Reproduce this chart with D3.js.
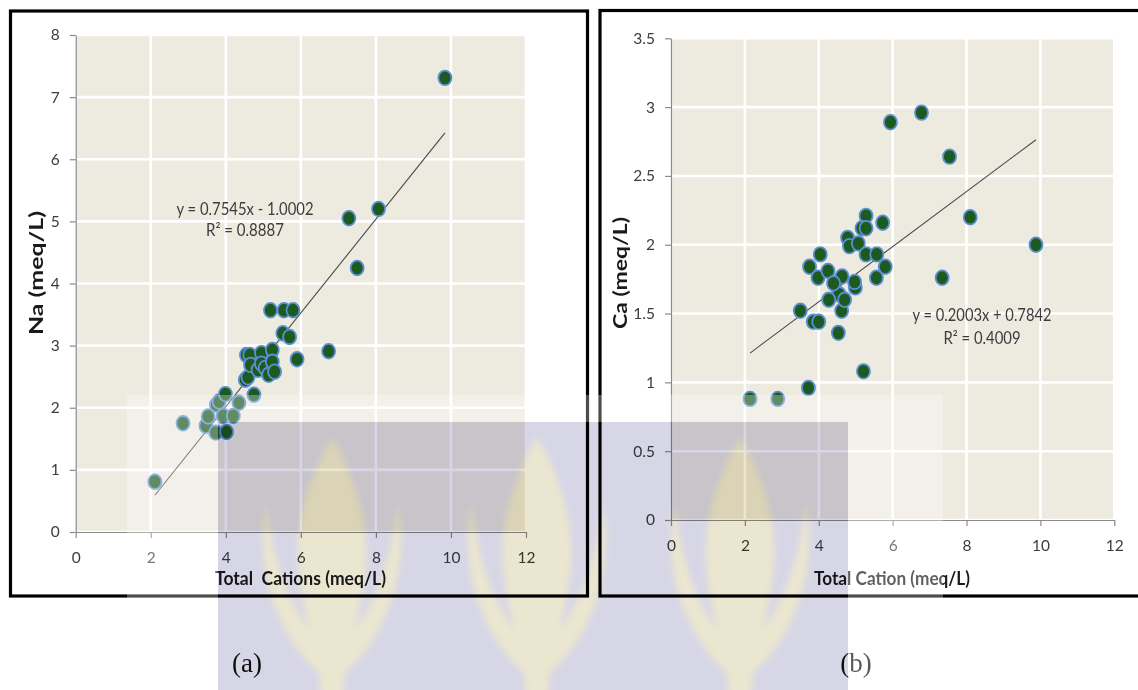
<!DOCTYPE html>
<html>
<head>
<meta charset="utf-8">
<script src="https://cdn.jsdelivr.net/npm/d3@7"></script>
<style>
  html, body { margin: 0; padding: 0; background: #ffffff; }
  svg { display: block; }
  text { font-family: Lato, "Open Sans", "Noto Sans", sans-serif; }
</style>
</head>
<body>
<svg id="fig" width="1138" height="690"></svg>
<script>
// ---- data -------------------------------------------------------------
// (a) sodium against total cations, meq/L
const naCations = [2.11, 2.86, 3.47, 3.53, 3.73, 3.75, 3.82, 3.93, 3.99, 4.02,
                   4.20, 4.35, 4.52, 4.59, 4.55, 4.64, 4.66, 4.75, 4.86, 4.95,
                   4.95, 5.05, 5.14, 5.24, 5.24, 5.30, 5.19, 5.55, 5.79, 5.52,
                   5.70, 5.90, 6.74, 7.28, 7.50, 8.07, 9.84];
const naValues  = [0.81, 1.75, 1.71, 1.86, 1.60, 2.05, 2.10, 1.87, 2.22, 1.61,
                   1.87, 2.08, 2.45, 2.49, 2.85, 2.85, 2.69, 2.21, 2.61, 2.88,
                   2.71, 2.64, 2.53, 2.93, 2.74, 2.58, 3.57, 3.57, 3.57, 3.20,
                   3.14, 2.78, 2.91, 5.05, 4.25, 5.20, 7.31];

// (b) calcium against total cations, meq/L
const caCations = [2.14, 2.89, 3.72, 3.50, 3.85, 4.00, 4.53, 4.62, 5.21, 4.55,
                   4.27, 4.70, 4.99, 5.28, 5.73, 5.17, 5.28, 4.78, 4.83, 5.07,
                   4.04, 5.28, 5.57, 3.75, 5.80, 3.98, 4.25, 4.63, 4.40, 4.97,
                   5.56, 5.94, 6.78, 7.54, 8.10, 9.88, 7.34];
const caValues  = [0.88, 0.88, 0.96, 1.52, 1.44, 1.44, 1.36, 1.52, 1.08, 1.64,
                   1.60, 1.60, 1.69, 2.21, 2.16, 2.12, 2.12, 2.05, 1.99, 2.01,
                   1.93, 1.93, 1.93, 1.84, 1.84, 1.76, 1.81, 1.77, 1.72, 1.73,
                   1.76, 2.89, 2.96, 2.64, 2.20, 2.00, 1.76];

// axis ticks
const xTicks  = [0, 2, 4, 6, 8, 10, 12];
const naTicks = [0, 1, 2, 3, 4, 5, 6, 7, 8];
const caTicks = [0, 0.5, 1, 1.5, 2, 2.5, 3, 3.5];

// linear trend lines: [sodium, calcium]
const fitSlopes     = [0.7545, 0.2003];
const fitIntercepts = [-1.0002, 0.7842];
const fitR2         = [0.8887, 0.4009];

// ---- drawing ----------------------------------------------------------
const svg = d3.select('#fig');
const fmt = d3.format('~g');

const panels = [
  {
    xs: naCations, ys: naValues, yTicks: naTicks, fit: 0,
    frame: { x: 10.5, y: 11, w: 577, h: 585 },
    left: 75.7, right: 526, top: 35, bottom: 532,
    xTitle: 'Total\u00a0 Cations (meq/L)', xTitleX: 300.5, xTitleW: 171,
    yTitle: 'Na (meq/L)', yTitleX: 43, yTitleY: 273, yTitleW: 124,
    eq: { x: 245, y1: 215, y2: 236, w1: 137, w2: 78 },
    tag: '(a)', tagX: 247
  },
  {
    xs: caCations, ys: caValues, yTicks: caTicks, fit: 1,
    frame: { x: 600, y: 10.5, w: 560, h: 585.5 },
    left: 671, right: 1114.3, top: 38.3, bottom: 520,
    xTitle: 'Total Cation (meq/L)', xTitleX: 892, xTitleW: 156,
    yTitle: 'Ca (meq/L)', yTitleX: 627, yTitleY: 273, yTitleW: 112,
    eq: { x: 982, y1: 320.5, y2: 344, w1: 139, w2: 77 },
    tag: '(b)', tagX: 856
  }
];

panels.forEach(p => {
  const g = svg.append('g');
  const yMax = d3.max(p.yTicks);
  const x = d3.scaleLinear().domain([0, 12]).range([p.left, p.right]);
  const y = d3.scaleLinear().domain([0, yMax]).range([p.bottom, p.top]);

  // chart frame
  g.append('rect')
    .attr('x', p.frame.x).attr('y', p.frame.y)
    .attr('width', p.frame.w).attr('height', p.frame.h)
    .attr('fill', 'none').attr('stroke', '#000').attr('stroke-width', 3.2);

  // plot area background
  g.append('rect')
    .attr('x', p.left).attr('y', p.top)
    .attr('width', p.right - p.left).attr('height', p.bottom - p.top)
    .attr('fill', '#edeae0');

  // white gridlines
  g.append('g').selectAll('line').data(xTicks).join('line')
    .attr('x1', d => x(d)).attr('x2', d => x(d))
    .attr('y1', p.top).attr('y2', p.bottom)
    .attr('stroke', '#ffffff').attr('stroke-width', 2.6);
  g.append('g').selectAll('line').data(p.yTicks).join('line')
    .attr('x1', p.left).attr('x2', p.right)
    .attr('y1', d => y(d)).attr('y2', d => y(d))
    .attr('stroke', '#ffffff').attr('stroke-width', 2.6);

  // axes
  const xAxis = g.append('g')
    .attr('transform', `translate(0,${p.bottom})`)
    .call(d3.axisBottom(x).tickValues(xTicks).tickFormat(fmt)
      .tickSize(6).tickSizeOuter(0).tickPadding(14));
  const yAxis = g.append('g')
    .attr('transform', `translate(${p.left},0)`)
    .call(d3.axisLeft(y).tickValues(p.yTicks).tickFormat(fmt)
      .tickSize(6).tickSizeOuter(0).tickPadding(10));
  [xAxis, yAxis].forEach(a => {
    a.select('.domain').attr('stroke', '#8a8a8a').attr('stroke-width', 1.2);
    a.selectAll('.tick line').attr('stroke', '#8a8a8a').attr('stroke-width', 1.2);
    a.selectAll('.tick text')
      .attr('fill', '#3c3c3c')
      .style('font-size', '15.5px')
      .style('font-family', 'Lato, "Open Sans", sans-serif');
  });

  // trend line over the range of the samples
  const s = fitSlopes[p.fit], b = fitIntercepts[p.fit];
  const [x0, x1] = d3.extent(p.xs);
  g.append('line')
    .attr('x1', x(x0)).attr('y1', y(s * x0 + b))
    .attr('x2', x(x1)).attr('y2', y(s * x1 + b))
    .attr('stroke', '#4a4a4a').attr('stroke-width', 1.1);

  // samples
  g.append('g').selectAll('ellipse').data(p.xs).join('ellipse')
    .attr('cx', d => x(d))
    .attr('cy', (d, i) => y(p.ys[i]))
    .attr('rx', 6.5).attr('ry', 7.3)
    .attr('fill', '#1d5a20')
    .attr('stroke', '#5a8fd2').attr('stroke-width', 1.8);

  // trend equation
  const eqText = `y = ${s}x ${b < 0 ? '-' : '+'} ${Math.abs(b).toFixed(4)}`;
  g.append('text')
    .attr('x', p.eq.x).attr('y', p.eq.y1)
    .attr('text-anchor', 'middle')
    .attr('textLength', p.eq.w1).attr('lengthAdjust', 'spacingAndGlyphs')
    .attr('fill', '#3c3c3c').style('font-size', '16.5px')
    .text(eqText);
  g.append('text')
    .attr('x', p.eq.x).attr('y', p.eq.y2)
    .attr('text-anchor', 'middle')
    .attr('textLength', p.eq.w2).attr('lengthAdjust', 'spacingAndGlyphs')
    .attr('fill', '#3c3c3c').style('font-size', '16.5px')
    .text(`R\u00b2 = ${fitR2[p.fit].toFixed(4)}`);

  // axis titles
  g.append('text')
    .attr('x', p.xTitleX).attr('y', 585)
    .attr('text-anchor', 'middle')
    .attr('textLength', p.xTitleW).attr('lengthAdjust', 'spacingAndGlyphs')
    .attr('fill', '#1a1a1a').style('font-size', '19px').style('font-weight', 700)
    .text(p.xTitle);
  g.append('text')
    .attr('transform', `translate(${p.yTitleX},${p.yTitleY}) rotate(-90)`)
    .attr('text-anchor', 'middle')
    .attr('textLength', p.yTitleW).attr('lengthAdjust', 'spacingAndGlyphs')
    .attr('fill', '#1a1a1a').style('font-size', '18px').style('font-weight', 700)
    .text(p.yTitle);

  // panel letter
  svg.append('text')
    .attr('x', p.tagX).attr('y', 672)
    .attr('text-anchor', 'middle')
    .style('font-family', '"Liberation Serif", "DejaVu Serif", serif')
    .style('font-size', '27px')
    .attr('fill', '#111')
    .text(p.tag);
});

// ---- faint crest watermark over the lower half -------------------------
const wm = svg.append('g').attr('pointer-events', 'none');
const outer = { x0: 127, y0: 395, x1: 943, y1: 690 };
const inner = { x0: 218, y0: 422, x1: 848, y1: 690 };

// pale halo around the crest
wm.append('path')
  .attr('d', `M${outer.x0},${outer.y0}H${outer.x1}V${outer.y1}H${outer.x0}Z ` +
             `M${inner.x0},${inner.y0}V${inner.y1}H${inner.x1}V${inner.y0}Z`)
  .attr('fill-rule', 'evenodd')
  .attr('fill', '#ffffff').attr('fill-opacity', 0.3);

// tinted crest with three torches
const defs = svg.append('defs');
defs.append('filter').attr('id', 'soft')
  .append('feGaussianBlur').attr('stdDeviation', 3);
defs.append('clipPath').attr('id', 'crestClip')
  .append('rect')
  .attr('x', inner.x0).attr('y', inner.y0)
  .attr('width', inner.x1 - inner.x0).attr('height', inner.y1 - inner.y0);

const crest = wm.append('g')
  .style('mix-blend-mode', 'multiply')
  .attr('clip-path', 'url(#crestClip)');
crest.append('rect')
  .attr('x', inner.x0).attr('y', inner.y0)
  .attr('width', inner.x1 - inner.x0).attr('height', inner.y1 - inner.y0)
  .attr('fill', '#d7d6e6');

function torch(cx) {
  const t = 437;
  const flame = `M${cx},${t} C${cx + 26},${t + 45} ${cx + 40},${t + 95} ${cx + 32},${t + 145}
    C${cx + 26},${t + 190} ${cx + 13},${t + 215} ${cx + 11},${t + 260}
    L${cx - 11},${t + 260} C${cx - 13},${t + 215} ${cx - 26},${t + 190} ${cx - 32},${t + 145}
    C${cx - 40},${t + 95} ${cx - 26},${t + 45} ${cx},${t} Z`;
  const wing = sgn => `M${cx + sgn * 14},${t + 235}
    C${cx + sgn * 52},${t + 200} ${cx + sgn * 78},${t + 140} ${cx + sgn * 66},${t + 65}
    C${cx + sgn * 58},${t + 130} ${cx + sgn * 40},${t + 180} ${cx + sgn * 10},${t + 205} Z`;
  return [flame, wing(-1), wing(1)];
}
[332, 537, 740].forEach(cx => {
  crest.append('g').attr('filter', 'url(#soft)')
    .selectAll('path').data(torch(cx)).join('path')
    .attr('d', d => d)
    .attr('fill', '#ebe6cf');
});
</script>
</body>
</html>
